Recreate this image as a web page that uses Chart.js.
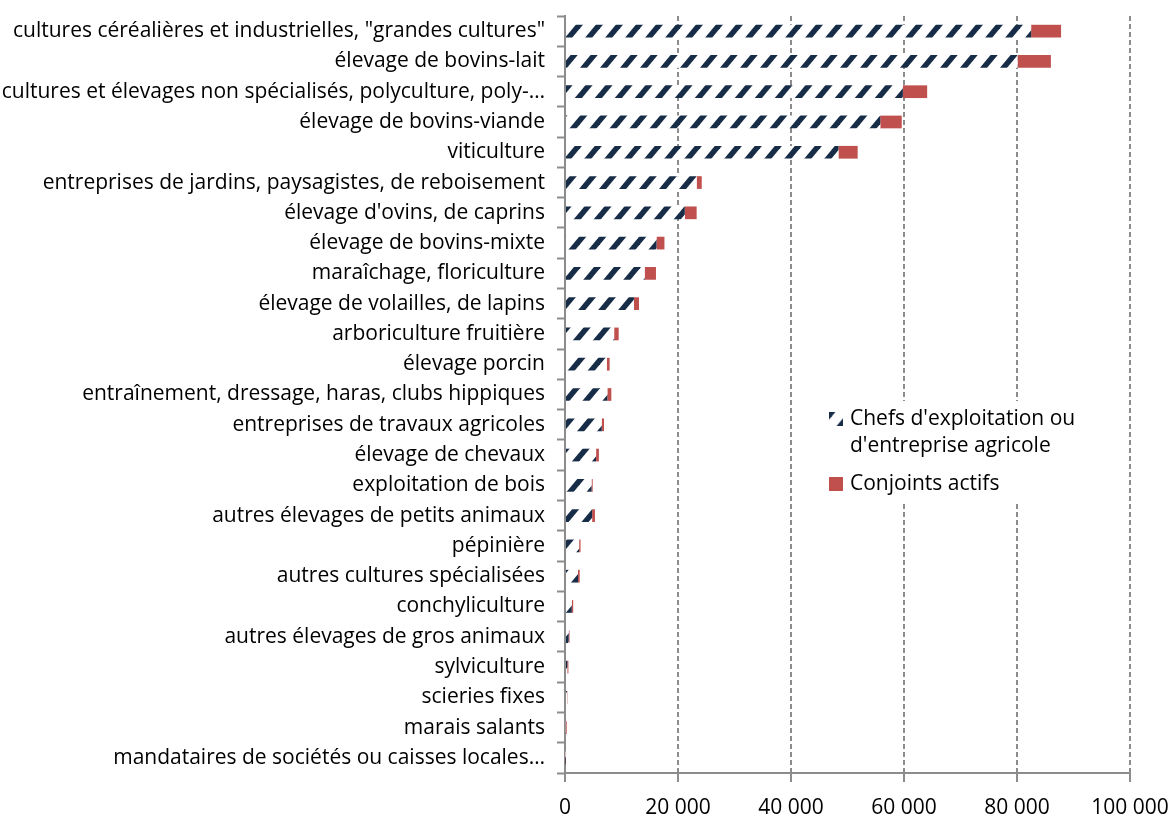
<!DOCTYPE html>
<html lang="fr">
<head>
<meta charset="utf-8">
<title>Chefs d'exploitation et conjoints actifs par secteur</title>
<script src="https://cdn.jsdelivr.net/npm/chart.js@4.4.7/dist/chart.umd.min.js"></script>
<style>
  html, body { margin: 0; padding: 0; background: #fff; }
  #wrap { position: relative; width: 1176px; height: 818px; }
</style>
</head>
<body>
<div id="wrap"><canvas id="chart"></canvas></div>
<script>
const categories = [
  'cultures céréalières et industrielles, "grandes cultures"',
  'élevage de bovins-lait',
  'cultures et élevages non spécialisés, polyculture, poly-…',
  'élevage de bovins-viande',
  'viticulture',
  'entreprises de jardins, paysagistes, de reboisement',
  "élevage d'ovins, de caprins",
  'élevage de bovins-mixte',
  'maraîchage, floriculture',
  'élevage de volailles, de lapins',
  'arboriculture fruitière',
  'élevage porcin',
  'entraînement, dressage, haras, clubs hippiques',
  'entreprises de travaux agricoles',
  'élevage de chevaux',
  'exploitation de bois',
  'autres élevages de petits animaux',
  'pépinière',
  'autres cultures spécialisées',
  'conchyliculture',
  'autres élevages de gros animaux',
  'sylviculture',
  'scieries fixes',
  'marais salants',
  'mandataires de sociétés ou caisses locales…'
];

const chefs = [82500, 80100, 59800, 55800, 48400, 23300, 21200, 16200, 14100, 12200,
  8700, 7400, 7500, 6500, 5500, 4700, 4800, 2500, 2300, 1200, 650, 400, 350, 150, 80];
const conjoints = [5300, 5900, 4300, 3800, 3400, 900, 2100, 1400, 2000, 900,
  800, 500, 700, 400, 500, 200, 500, 250, 300, 250, 150, 200, 60, 150, 100];

const xTicks = [0, 20000, 40000, 60000, 80000, 100000];

const legendLines = [["Chefs d'exploitation ou", "d'entreprise agricole"], ["Conjoints actifs"]];

const NAVY = '#172c47';
const RED = '#c0504d';
const AXIS = '#8c8c8c';
const FONT = '"Open Sans", sans-serif';
const FSIZE = 21;

// Excel-like "wide upward diagonal" hatch
function makeHatch() {
  const w = 20, h = 24;
  const c = document.createElement('canvas');
  c.width = w; c.height = h;
  const g = c.getContext('2d');
  g.fillStyle = '#fff';
  g.fillRect(0, 0, w, h);
  g.strokeStyle = NAVY;
  g.lineWidth = 5.5;
  // lines run past the tile edges so the stripes join up seamlessly
  for (let k = -2; k <= 2; k++) {
    g.beginPath();
    g.moveTo(k * w - w, 2 * h);
    g.lineTo(k * w + 2 * w, -h);
    g.stroke();
  }
  return c;
}

const ctx = document.getElementById('chart').getContext('2d');
const hatch = ctx.createPattern(makeHatch(), 'repeat');

function fmt(v) {
  return String(v).replace(/\B(?=(\d{3})+(?!\d))/g, ' ');
}

// legend drawn inside the plot, over a white box, like the original
const boxLegend = {
  id: 'boxLegend',
  afterDatasetsDraw(chart) {
    const c = chart.ctx;
    c.save();
    c.fillStyle = '#fff';
    c.fillRect(822, 401, 256, 100);
    c.font = FSIZE + 'px ' + FONT;
    c.textBaseline = 'middle';
    const rows = [
      { fill: hatch, y: 419, lines: legendLines[0] },
      { fill: RED, y: 484, lines: legendLines[1] }
    ];
    rows.forEach(r => {
      c.save();
      c.translate(831.8, r.y - 7);
      c.fillStyle = r.fill;
      c.fillRect(-2.8, 0, 14, 14);
      c.restore();
      c.fillStyle = '#000';
      r.lines.forEach((t, i) => c.fillText(t, 850, r.y + i * 27));
    });
    c.restore();
  }
};

new Chart(ctx, {
  type: 'bar',
  data: {
    labels: categories,
    datasets: [
      { label: legendLines[0].join(' '), data: chefs, backgroundColor: hatch, borderWidth: 0 },
      { label: legendLines[1][0], data: conjoints, backgroundColor: RED, borderWidth: 0 }
    ]
  },
  options: {
    indexAxis: 'y',
    responsive: true,
    maintainAspectRatio: false,
    animation: false,
    layout: { padding: { top: 16, right: 46, bottom: 0, left: 0 } },
    datasets: { bar: { categoryPercentage: 1, barPercentage: 0.42 } },
    plugins: { legend: { display: false }, tooltip: { enabled: false } },
    scales: {
      x: {
        stacked: true,
        min: 0,
        max: 100000,
        afterBuildTicks(scale) { scale.ticks = xTicks.map(v => ({ value: v })); },
        afterFit(scale) {
          scale.height = 45;
          scale.paddingLeft = 0;
          scale.paddingRight = 0;
        },
        ticks: { color: '#000', font: { family: FONT, size: FSIZE }, padding: 13, callback: v => fmt(v), maxRotation: 0 },
        grid: { color: AXIS, lineWidth: 2, tickLength: 9, tickColor: AXIS, tickWidth: 2 },
        border: { color: AXIS, width: 2, dash: [5, 3] }
      },
      y: {
        stacked: true,
        afterFit(scale) {
          scale.width = 565;
          scale.paddingTop = 0;
          scale.paddingBottom = 0;
        },
        ticks: { color: '#000', font: { family: FONT, size: FSIZE }, padding: 12, autoSkip: false },
        grid: { display: true, drawOnChartArea: false, offset: true, tickLength: 8, color: AXIS, tickColor: AXIS, tickWidth: 2 },
        border: { color: AXIS, width: 2 }
      }
    }
  },
  plugins: [boxLegend]
});
</script>
</body>
</html>
